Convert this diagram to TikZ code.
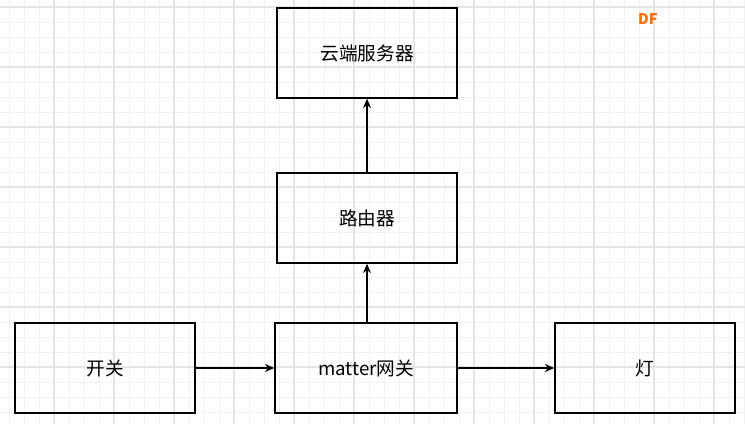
\documentclass[tikz,border=0pt]{standalone}
\usepackage{fontspec}
\newfontfamily\cjk{Noto Sans CJK SC}
\setmainfont{Noto Sans CJK SC}
\usetikzlibrary{arrows.meta}
\begin{document}
\begin{tikzpicture}[x=0.75pt,y=-0.75pt,
  box/.style={draw,line width=1.1pt,minimum width=180*0.75pt,minimum height=90*0.75pt,font=\fontsize{14}{16}\selectfont,inner sep=0pt},
  arr/.style={-{Stealth[length=7pt,width=6pt]},line width=0.9pt}]
\useasboundingbox (0,0) rectangle (745,424);
\fill[white] (0,0) rectangle (745,424);
\foreach \x in {-6,9,...,745} \draw[black!5,line width=0.6pt] (\x,0)--(\x,424);
\foreach \y in {7,22,...,424} \draw[black!5,line width=0.6pt] (0,\y)--(745,\y);
\foreach \x in {-6,54,...,745} \draw[black!10,line width=0.8pt] (\x,0)--(\x,424);
\foreach \y in {7,67,...,424} \draw[black!10,line width=0.8pt] (0,\y)--(745,\y);
\node[font=\bfseries\fontsize{11}{12}\selectfont,text=orange!85!red] (df) at (648,19) {DF};
\node[box] (cloud) at (367,53) {云端服务器};
\node[box] (router) at (367,218) {路由器};
\node[box] (switch) at (105,368) {开关};
\node[box,minimum width=182*0.75pt] (gw) at (366,368) {matter网关};
\node[box] (lamp) at (645,368) {灯};
\draw[arr] (switch) -- (gw);
\draw[arr] (gw) -- (lamp);
\draw[arr] (gw.north -| router) -- (router);
\draw[arr] (router) -- (cloud);
\end{tikzpicture}
\end{document}
